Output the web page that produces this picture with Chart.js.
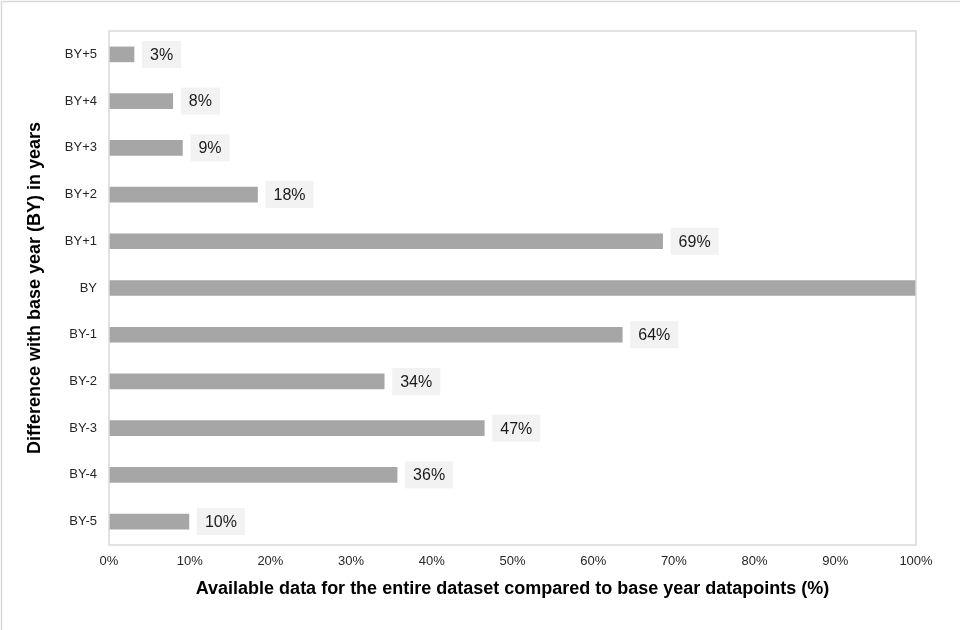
<!DOCTYPE html>
<html>
<head>
<meta charset="utf-8">
<script src="https://cdn.jsdelivr.net/npm/chart.js@4.4.1/dist/chart.umd.min.js"></script>
<style>
  html, body { margin: 0; padding: 0; background: #fff; }
  #wrap { width: 960px; height: 630px; position: relative; }
</style>
</head>
<body>
<div id="wrap"><canvas id="grafico"></canvas></div>
<script>
// dados
const categorias = ["BY+5", "BY+4", "BY+3", "BY+2", "BY+1", "BY", "BY-1", "BY-2", "BY-3", "BY-4", "BY-5"];
const disponibilidade = [3.1, 7.9, 9.1, 18.4, 68.6, 100, 63.6, 34.1, 46.5, 35.7, 9.9];
const tituloX = "Available data for the entire dataset compared to base year datapoints (%)";
const tituloY = "Difference with base year (BY) in years";

const fonte = "'Liberation Sans', Arial, sans-serif";

// moldura externa + borda da área do gráfico
const molduraPlugin = {
  id: "moldura",
  beforeDraw(chart) {
    const ctx = chart.ctx;
    ctx.save();
    ctx.fillStyle = "#fff";
    ctx.fillRect(0, 0, chart.width, chart.height);
    ctx.strokeStyle = "#d9d9d9";
    ctx.lineWidth = 1.5;
    ctx.strokeRect(1.5, 1.5, chart.width + 20, chart.height + 20);
    ctx.restore();
  },
  afterDraw(chart) {
    const { ctx, chartArea: a } = chart;
    ctx.save();
    ctx.strokeStyle = "#d9d9d9";
    ctx.lineWidth = 1.5;
    ctx.strokeRect(a.left, a.top, a.right - a.left, a.bottom - a.top);
    ctx.restore();
  },
};

// rótulos com caixa cinza clara
const rotulosPlugin = {
  id: "rotulos",
  afterDatasetsDraw(chart) {
    const ctx = chart.ctx;
    const meta = chart.getDatasetMeta(0);
    ctx.save();
    ctx.font = "16px " + fonte;
    ctx.textBaseline = "middle";
    meta.data.forEach((bar, i) => {
      const v = disponibilidade[i];
      if (v >= 99.5) return;
      const txt = Math.round(v) + "%";
      const w = ctx.measureText(txt).width + 16;
      const x = bar.x + 8;
      ctx.fillStyle = "#f2f2f2";
      ctx.fillRect(x, bar.y - 13.5, w, 27);
      ctx.fillStyle = "#1a1a1a";
      ctx.fillText(txt, x + 8, bar.y + 1);
    });
    ctx.restore();
  },
};

new Chart(document.getElementById("grafico"), {
  type: "bar",
  data: {
    labels: categorias,
    datasets: [
      {
        data: disponibilidade,
        backgroundColor: "#a6a6a6",
        borderWidth: 0,
        barThickness: 15,
      },
    ],
  },
  options: {
    indexAxis: "y",
    responsive: true,
    maintainAspectRatio: false,
    animation: false,
    layout: { padding: { top: 31, right: 44, left: 0, bottom: 0 } },
    plugins: {
      legend: { display: false },
      tooltip: { enabled: false },
    },
    scales: {
      x: {
        min: 0,
        max: 100,
        grid: { display: false, drawTicks: false },
        border: { display: false },
        ticks: {
          stepSize: 10,
          padding: 9,
          maxRotation: 0,
          color: "#262626",
          font: { family: fonte, size: 13 },
          callback: (v) => v + "%",
        },
        title: {
          display: true,
          text: tituloX,
          color: "#000",
          font: { family: fonte, size: 18, weight: "bold" },
          padding: { top: 0, bottom: 30 },
        },
        afterFit(scale) {
          scale.height = 85;
        },
      },
      y: {
        grid: { display: false, drawTicks: false },
        border: { display: false },
        ticks: {
          padding: 12,
          color: "#262626",
          font: { family: fonte, size: 13 },
        },
        title: {
          display: true,
          text: tituloY,
          color: "#000",
          font: { family: fonte, size: 18, weight: "bold" },
          padding: { top: 24, bottom: 0 },
        },
        afterFit(scale) {
          scale.width = 109;
        },
      },
    },
  },
  plugins: [molduraPlugin, rotulosPlugin],
});
</script>
</body>
</html>
